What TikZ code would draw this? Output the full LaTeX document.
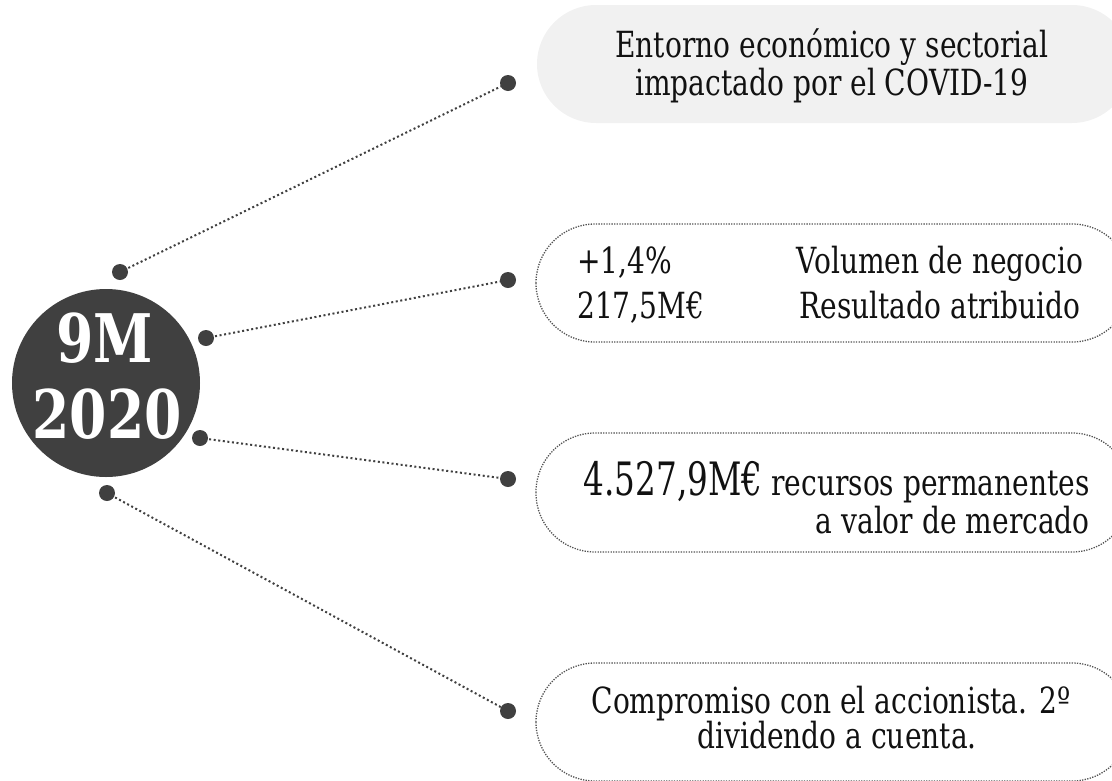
\documentclass[tikz,border=0pt]{standalone}
\usepackage{fontspec}
\setmainfont{DejaVu Serif}[FakeStretch=0.78]
\newfontfamily\numfont{DejaVu Serif}[FakeStretch=0.8]
\newfontfamily\bignum{DejaVu Serif}[FakeStretch=0.71]
\definecolor{dark}{HTML}{404040}
\definecolor{pale}{HTML}{F1F1F1}
\definecolor{ink}{HTML}{111111}
\tikzset{
  dotnode/.style={circle,fill=dark,inner sep=0pt,minimum size=16pt},
  link/.style={draw=dark,line width=2pt,dash pattern=on 2pt off 2.6pt},
  pill/.style={draw=dark!90,line width=1.3pt,dash pattern=on 1.3pt off 1.3pt,rounded corners=59pt},
  txt/.style={text=ink,inner sep=0pt,font=\fontsize{36}{40}\selectfont},
}
\begin{document}
\begin{tikzpicture}[x=1pt,y=-1pt]
\useasboundingbox (0,0) rectangle (1112,780);
\clip (0,0) rectangle (1112,780);
% boxes
\fill[pale,rounded corners=59pt] (537,5) rectangle (1131,123);
\draw[pill] (536,224) rectangle (1131,342);
\draw[pill] (536,433) rectangle (1131,552);
\draw[pill] (536,663) rectangle (1131,781);
% central circle
\node[circle,fill=dark,minimum size=188pt,inner sep=0pt] (hub) at (106,383) {};
\node[text=white,font=\numfont\bfseries\fontsize{67}{76}\selectfont,align=center,inner sep=0pt,anchor=base] (t1) at (105,362) {9M};
\node[text=white,font=\numfont\bfseries\fontsize{67}{76}\selectfont,align=center,inner sep=0pt,anchor=base] (t2) at (107,438) {2020};
% dots
\node[dotnode] (dA) at (120,272) {};
\node[dotnode] (dB) at (206,338) {};
\node[dotnode] (dC) at (200,438) {};
\node[dotnode] (dD) at (107,493) {};
\node[dotnode] (dE) at (508,83) {};
\node[dotnode] (dF) at (508,280) {};
\node[dotnode] (dG) at (508,479) {};
\node[dotnode] (dH) at (508,711) {};
% connectors
\draw[link] (dA.center) -- (dE.center);
\draw[link] (dB.center) -- (dF.center);
\draw[link] (dC.center) -- (dG.center);
\draw[link] (dD.center) -- (dH.center);
% texts
\node[txt,anchor=base] (b1a) at (832,57) {Entorno económico y sectorial};
\node[txt,anchor=base] (b1b) at (832,95) {impactado por el COVID-19};
\node[txt,anchor=base west] (b2a) at (577,273) {+1,4\%};
\node[txt,anchor=base west] (b2b) at (577,318) {217,5M€};
\node[txt,anchor=base] (b2c) at (940,273) {Volumen de negocio};
\node[txt,anchor=base] (b2d) at (940,318) {Resultado atribuido};
\node[txt,anchor=base east] (b3a) at (1090,495) {{\bignum\fontsize{46}{46}\selectfont 4.527,9M€} recursos permanentes};
\node[txt,anchor=base east] (b3b) at (1090,533) {a valor de mercado};
\node[txt,anchor=base] (b4a) at (831,713) {Compromiso con el accionista. 2º};
\node[txt,anchor=base] (b4b) at (837,748) {dividendo a cuenta.};
\end{tikzpicture}
\end{document}
